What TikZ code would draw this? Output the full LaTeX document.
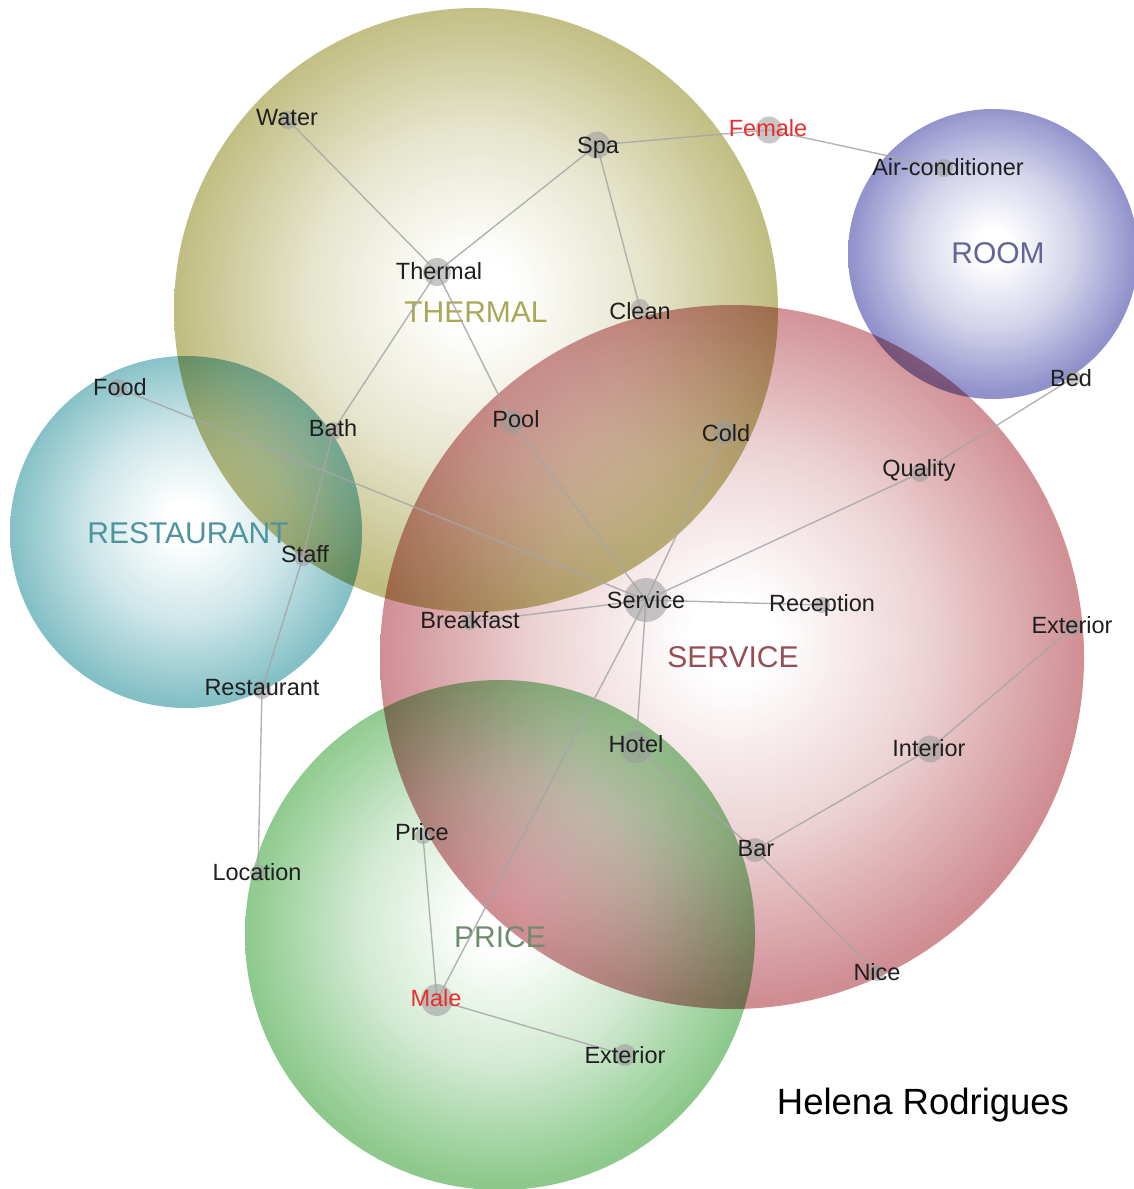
\documentclass[tikz,border=0pt]{standalone}
\usepackage{fontspec}
\setmainfont{Liberation Sans}
\usepackage{tikz}
\usetikzlibrary{positioning}

\definecolor{thermalc}{RGB}{176,172,96}
\definecolor{roomc}{RGB}{116,116,190}
\definecolor{servicec}{RGB}{196,114,120}
\definecolor{restc}{RGB}{100,176,184}
\definecolor{pricec}{RGB}{112,188,112}
\definecolor{thermalt}{RGB}{168,168,88}
\definecolor{roomt}{RGB}{100,100,150}
\definecolor{servicet}{RGB}{150,78,84}
\definecolor{restt}{RGB}{78,148,158}
\definecolor{pricet}{RGB}{110,140,110}
\definecolor{femc}{RGB}{235,45,45}

% white core, topic colour at the rim
\pgfdeclareradialshading[bubblecol]{bubble}{\pgfpoint{0bp}{1.5bp}}{color(0bp)=(white); color(3bp)=(white); color(14bp)=(white!60!bubblecol); color(25bp)=(bubblecol); color(50bp)=(bubblecol)}

\begin{document}
\begin{tikzpicture}[
  x=1pt, y=1pt,
  bubble/.style={/utils/exec={\colorlet{bubblecol}{#1}}, shading=bubble,
                 fill opacity=0.8, blend mode=multiply},
  topic/.style={font=\fontsize{30}{32}\selectfont, text=#1},
  dot/.style={circle, inner sep=0pt, minimum size=#1, fill=gray!80, fill opacity=0.55},
  dot/.default=18pt,
  term/.style={font=\fontsize{23.5}{25}\selectfont, text=black!88},
  link/.style={draw=gray!70, line width=1.4pt, draw opacity=0.85}
]
  \useasboundingbox (0,0) rectangle (1134,-1189);

  % topic bubbles
  \shade[bubble=thermalc] (476,-310) circle[radius=302];
  \shade[bubble=roomc]    (993,-254) circle[radius=145];
  \shade[bubble=restc]    (186,-532) circle[radius=176];
  \shade[bubble=servicec] (732,-657) circle[radius=352];
  \shade[bubble=pricec]   (500,-935) circle[radius=255];

  \node[topic=thermalt] (thermal-t) at (476,-312) {THERMAL};
  \node[topic=roomt]    (room-t)    at (998,-253) {ROOM};
  \node[topic=restt]    (rest-t)    at (188,-533) {RESTAURANT};
  \node[topic=servicet] (service-t) at (733,-657) {SERVICE};
  \node[topic=pricet]   (price-t)   at (500,-937) {PRICE};

  % term dots
  \node[dot]       (water)     at (288,-120) {};
  \node[dot=27pt]  (spa)       at (597,-145) {};
  \node[dot=27pt]  (female)    at (769,-130) {};
  \node[dot]       (aircon)    at (944,-168) {};
  \node[dot=28pt]  (thermal)   at (437,-272) {};
  \node[dot]       (clean)     at (640,-308) {};
  \node[dot]       (food)      at (118,-388) {};
  \node[dot]       (bath)      at (333,-431) {};
  \node[dot=24pt]  (pool)      at (512,-422) {};
  \node[dot=24pt]  (cold)      at (725,-432) {};
  \node[dot=16pt]  (bed)       at (1073,-378) {};
  \node[dot]       (quality)   at (920,-473) {};
  \node[dot]       (staff)     at (303,-557) {};
  \node[dot=44pt]  (service)   at (646,-600) {};
  \node[dot=16pt]  (breakfast) at (470,-622) {};
  \node[dot=16pt]  (reception) at (822,-605) {};
  \node[dot=16pt]  (exterior)  at (1073,-627) {};
  \node[dot]       (restaurant) at (262,-690) {};
  \node[dot=32pt]  (hotel)     at (636,-747) {};
  \node[dot=27pt]  (interior)  at (930,-749) {};
  \node[dot=16pt]  (price)     at (423,-836) {};
  \node[dot=24pt]  (bar)       at (755,-850) {};
  \node[dot=16pt]  (location)  at (258,-873) {};
  \node[dot=16pt]  (nice)      at (877,-973) {};
  \node[dot=32pt]  (male)      at (437,-1000) {};
  \node[dot=22pt]  (exterior2) at (625,-1055) {};

  % links
  \foreach \a/\b in {water/thermal, thermal/spa, spa/female, female/aircon,
      spa/clean, thermal/bath, thermal/pool, pool/service, food/service,
      bath/staff, staff/restaurant, restaurant/location, bed/quality,
      quality/service, cold/service, service/breakfast, service/reception,
      service/hotel, service/male, hotel/bar, bar/interior,
      interior/exterior, bar/nice, price/male, male/exterior2}
    \draw[link] (\a.center) -- (\b.center);

  % term labels
  \node[term] (water-l)     at (287,-118) {Water};
  \node[term] (spa-l)       at (598,-148) {Spa};
  \node[term, text=femc] (female-l) at (768,-128) {Female};
  \node[term] (aircon-l)    at (948,-167) {Air-conditioner};
  \node[term] (thermal-l)   at (439,-271) {Thermal};
  \node[term] (clean-l)     at (640,-311) {Clean};
  \node[term] (food-l)      at (120,-387) {Food};
  \node[term] (bath-l)      at (333,-428) {Bath};
  \node[term] (pool-l)      at (516,-419) {Pool};
  \node[term] (cold-l)      at (726,-433) {Cold};
  \node[term] (bed-l)       at (1071,-378) {Bed};
  \node[term] (quality-l)   at (919,-470) {Quality};
  \node[term] (staff-l)     at (305,-554) {Staff};
  \node[term] (service-l)   at (646,-600) {Service};
  \node[term] (breakfast-l) at (470,-620) {Breakfast};
  \node[term] (reception-l) at (822,-605) {Reception};
  \node[term] (exterior-l)  at (1072,-625) {Exterior};
  \node[term] (restaurant-l) at (262,-688) {Restaurant};
  \node[term] (hotel-l)     at (636,-744) {Hotel};
  \node[term] (interior-l)  at (929,-748) {Interior};
  \node[term] (price-l)     at (422,-832) {Price};
  \node[term] (bar-l)       at (756,-849) {Bar};
  \node[term] (location-l)  at (257,-872) {Location};
  \node[term] (nice-l)      at (877,-972) {Nice};
  \node[term, text=femc] (male-l) at (436,-998) {Male};
  \node[term] (exterior2-l) at (625,-1055) {Exterior};

  \node[font=\fontsize{36.5}{40}\selectfont] (author) at (923,-1105) {Helena Rodrigues};
\end{tikzpicture}
\end{document}
